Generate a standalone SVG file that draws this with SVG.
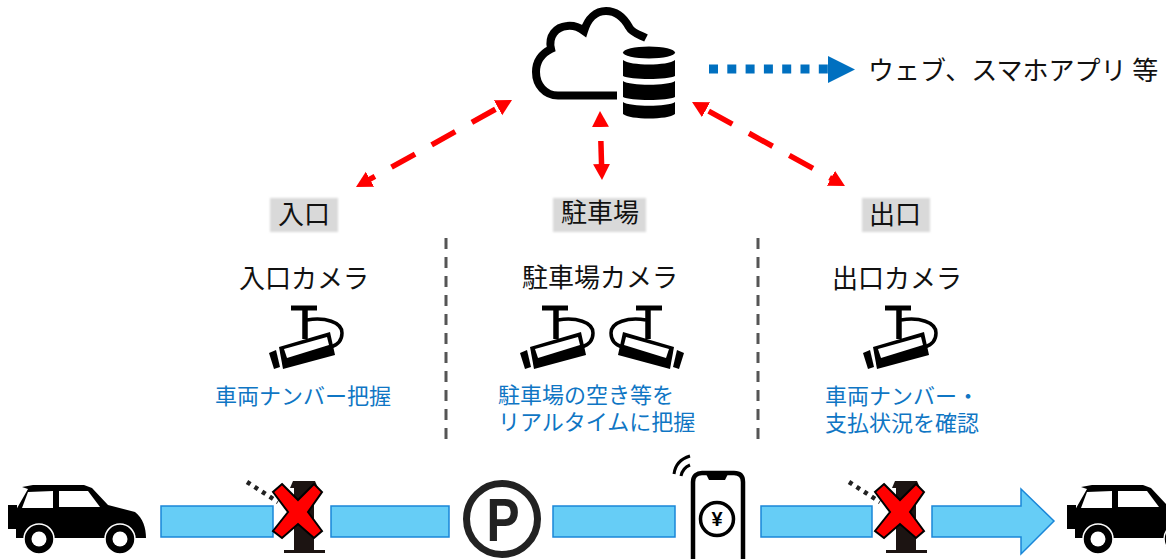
<svg xmlns="http://www.w3.org/2000/svg" width="1166" height="559" viewBox="0 0 1166 559">
<style>
text{font-family:"Noto Sans CJK JP","Noto Sans",sans-serif}
.t{font-size:26px;fill:#111;text-anchor:middle}
.b{font-size:22px;fill:#0f76c4}
.lab{fill:#d9d9d9;filter:url(#soft)}
.bar{fill:#66cdf6;stroke:#1a86d8;stroke-width:1.5}
.red{fill:none;stroke:#f00;stroke-width:5.5;stroke-dasharray:27 19;stroke-dashoffset:41;marker-start:url(#rh);marker-end:url(#rh)}
.sep{stroke:#555;stroke-width:3;stroke-dasharray:11 8}
</style>
<defs>
<filter id="soft" x="-10%" y="-10%" width="120%" height="120%"><feGaussianBlur stdDeviation="1"/></filter>
<marker id="rh" markerUnits="userSpaceOnUse" markerWidth="20" markerHeight="20" refX="2" refY="8.5" orient="auto-start-reverse"><path d="M0,0L16,8.5L0,17Z" fill="#f00"/></marker>
<g id="cam">
<path d="M291,308H317" stroke="#000" stroke-width="5" fill="none"/>
<path d="M305,308V339" stroke="#000" stroke-width="5.5" fill="none"/>
<path d="M307,320C325,317 342,322 342,333C342,341 337,345 331,347" stroke="#000" stroke-width="3.5" fill="none"/>
<path d="M279,347L330,332L335,355L283,369Z" fill="#000"/>
<path d="M284,349L327,337L329,345L287,358Z" fill="#fff"/>
<path d="M269,353L276,350L280,367L274,369Z" fill="#000"/>
</g>
<g id="car">
<path d="M8,505H17V529H8Z" fill="#000"/>
<path d="M16,538V510L28,489L22,487L33,485H84L92,488L108,505L135,512C143,518 146,528 146,538Z" fill="#000"/>
<path d="M22,508L28,492L53,491V508Z M59,491H88L100,507H59Z" fill="#fff"/>
<circle cx="39" cy="539" r="15" fill="#000" stroke="#fff" stroke-width="1.5"/><circle cx="39" cy="539" r="7.5" fill="#fff"/>
<circle cx="120" cy="539" r="15" fill="#000" stroke="#fff" stroke-width="1.5"/><circle cx="120" cy="539" r="7.5" fill="#fff"/>
</g>
<g id="gate">
<path d="M247,482L278,502" stroke="#222" stroke-width="4.5" stroke-dasharray="4 5" fill="none"/>
<path d="M293,481H315L318,488H290Z" fill="#1c1412"/>
<path d="M294,488H314V550H294Z" fill="#1c1412"/>
<path d="M284,550H325V553H284Z" fill="#1c1412"/>
<path d="M282,484L298,500L314,484L322,492L308,512L322,531L314,538L298,524L282,538L273,531L288,512L273,492Z" fill="#f00" stroke="#000" stroke-width="2"/>
</g>
</defs>

<g id="connectors">
<path class="red" d="M499.8,106.8L368.2,180.2"/>
<path class="red" style="stroke-dasharray:25 100;stroke-dashoffset:-16" d="M600.4,125L601.6,166"/>
<path class="red" d="M704.3,108.7L832.7,179.3"/>
<path d="M709,69H832" stroke="#0070c0" stroke-width="9" stroke-dasharray="9 9.3" fill="none"/>
<path d="M828,56L855,69.5L828,83Z" fill="#0070c0"/>
<path class="sep" d="M446,238V441"/>
<path class="sep" d="M758,238V441"/>
</g>

<g id="cloud-db">
<path d="M617,95.5H558C545,95.5 536,85 536,72C536,62 541,54 551,49C548,36 556,27 567,26C575,25 580,28 584,31C588,18 596,11 606,11C616,11 624,18 629,27C632,33 640,35 646,38" fill="none" stroke="#000" stroke-width="8"/>
<ellipse cx="649" cy="52.5" rx="26" ry="6" fill="#000"/>
<path d="M623,60C630,66 668,66 675,60V76C668,80 630,80 623,76Z" fill="#000"/>
<path d="M623,81C630,86 668,86 675,81V97C668,101 630,101 623,97Z" fill="#000"/>
<path d="M623,102C630,107 668,107 675,102V114C668,120 630,120 623,114Z" fill="#000"/>
</g>
<g id="web-label"><text x="868" y="80" style="font-size:26px;fill:#111">ウェブ、スマホアプリ 等</text></g>

<g id="entry">
<rect class="lab" x="270" y="198" width="68" height="34"/>
<text class="t" x="304" y="224">入口</text>
<text class="t" x="304" y="288">入口カメラ</text>
<use href="#cam"/>
<text class="b" x="303" y="404" text-anchor="middle">車両ナンバー把握</text>
</g>
<g id="parking">
<rect class="lab" x="553" y="198" width="93" height="34"/>
<text class="t" x="600" y="222">駐車場</text>
<text class="t" x="600" y="287">駐車場カメラ</text>
<use href="#cam" transform="translate(251,0)"/>
<use href="#cam" transform="translate(953,0) scale(-1,1)"/>
<text class="b" x="498" y="403">駐車場の空き等を</text>
<text class="b" x="498" y="430">リアルタイムに把握</text>
</g>
<g id="exit">
<rect class="lab" x="862" y="198" width="68" height="34"/>
<text class="t" x="895" y="224">出口</text>
<text class="t" x="897" y="288">出口カメラ</text>
<use href="#cam" transform="translate(594,0)"/>
<text class="b" x="825" y="404">車両ナンバー・</text>
<text class="b" x="825" y="431">支払状況を確認</text>
</g>

<g id="car-in"><use href="#car"/></g>
<g id="flow">
<rect class="bar" x="161" y="506" width="112" height="31"/>
<rect class="bar" x="331" y="506" width="118" height="31"/>
<rect class="bar" x="553" y="506" width="122" height="31"/>
<rect class="bar" x="761" y="506" width="111" height="31"/>
<path class="bar" d="M932,506H1021V489L1054,521L1021,554V537H932Z"/>
</g>
<g id="gate-in"><use href="#gate"/></g>
<g id="p-sign">
<circle cx="502" cy="519" r="35.5" fill="none" stroke="#222" stroke-width="7"/>
<text transform="translate(503,541) scale(.8,1)" text-anchor="middle" style="font-family:'Liberation Sans',sans-serif;font-weight:700;font-size:62px;fill:#222">P</text>
</g>
<g id="phone">
<path d="M693,580V482C693,476 697,473 702,473H734C740,473 743,476 743,482V580" fill="none" stroke="#000" stroke-width="4.5"/>
<path d="M706,474H728L725,480H709Z" fill="#000"/>
<circle cx="717" cy="519" r="16.5" fill="none" stroke="#000" stroke-width="3.5"/>
<text x="717" y="526" text-anchor="middle" style="font-family:'Liberation Sans',sans-serif;font-weight:700;font-size:20px;fill:#000">¥</text>
<path d="M674,474C675,466 680,459 690,456M681,476C682,471 685,467 690,465" fill="none" stroke="#000" stroke-width="3"/>
</g>
<g id="gate-out"><use href="#gate" transform="translate(602,0)"/></g>
<g id="car-out"><use href="#car" transform="translate(1059,0)"/></g>
</svg>
